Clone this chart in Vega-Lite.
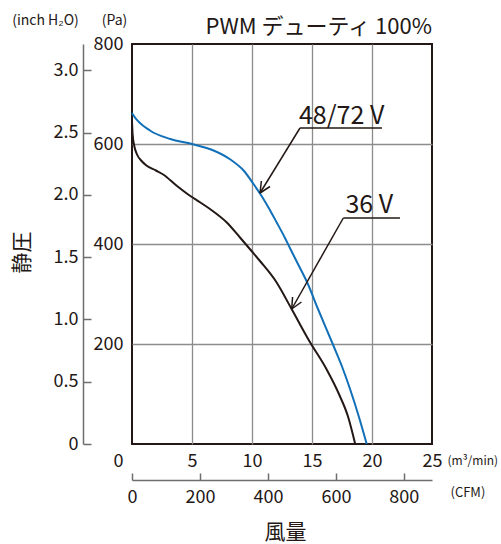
{
  "$schema": "https://vega.github.io/schema/vega-lite/v6.json",
  "width": 300,
  "height": 400,
  "autosize": {"type": "none"},
  "padding": {"left": 132, "top": 44, "right": 69, "bottom": 100},
  "background": "white",
  "config": {
    "view": {"stroke": "#231815", "strokeWidth": 2},
    "font": "Noto Sans CJK JP, sans-serif",
    "axis": {
      "labelFont": "Noto Sans CJK JP, sans-serif",
      "labelFontSize": 18,
      "labelColor": "#231815",
      "titleFont": "Noto Sans CJK JP, sans-serif",
      "titleFontWeight": "normal",
      "titleColor": "#231815",
      "labelOverlap": false,
      "labelFlush": false
    }
  },
  "title": {
    "text": "PWM デューティ 100%",
    "anchor": "end",
    "frame": "group",
    "fontSize": 22,
    "font": "Noto Sans CJK JP, sans-serif",
    "fontWeight": "normal",
    "color": "#231815",
    "baseline": "alphabetic",
    "offset": -43
  },
  "datasets": {
    "curves": [
      {"series": "48/72 V", "flow": 0, "pressure": 662},
      {"series": "48/72 V", "flow": 0.1, "pressure": 658},
      {"series": "48/72 V", "flow": 1.5, "pressure": 627},
      {"series": "48/72 V", "flow": 3.2, "pressure": 610},
      {"series": "48/72 V", "flow": 5, "pressure": 600},
      {"series": "48/72 V", "flow": 6.8, "pressure": 587},
      {"series": "48/72 V", "flow": 8.2, "pressure": 569},
      {"series": "48/72 V", "flow": 9.3, "pressure": 547},
      {"series": "48/72 V", "flow": 10.1, "pressure": 521},
      {"series": "48/72 V", "flow": 10.8, "pressure": 496},
      {"series": "48/72 V", "flow": 11.3, "pressure": 476},
      {"series": "48/72 V", "flow": 12.06, "pressure": 443},
      {"series": "48/72 V", "flow": 12.75, "pressure": 412},
      {"series": "48/72 V", "flow": 13.2, "pressure": 390},
      {"series": "48/72 V", "flow": 14, "pressure": 352},
      {"series": "48/72 V", "flow": 14.6, "pressure": 323},
      {"series": "48/72 V", "flow": 15.5, "pressure": 270},
      {"series": "48/72 V", "flow": 16.78, "pressure": 197},
      {"series": "48/72 V", "flow": 17.5, "pressure": 155},
      {"series": "48/72 V", "flow": 18.17, "pressure": 110},
      {"series": "48/72 V", "flow": 18.9, "pressure": 55},
      {"series": "48/72 V", "flow": 19.56, "pressure": 0},
      {"series": "36 V", "flow": 0, "pressure": 645},
      {"series": "36 V", "flow": 0.05, "pressure": 620},
      {"series": "36 V", "flow": 0.2, "pressure": 595},
      {"series": "36 V", "flow": 0.4, "pressure": 580},
      {"series": "36 V", "flow": 0.8, "pressure": 566},
      {"series": "36 V", "flow": 1.2, "pressure": 557},
      {"series": "36 V", "flow": 2, "pressure": 547},
      {"series": "36 V", "flow": 2.6, "pressure": 539},
      {"series": "36 V", "flow": 3.7, "pressure": 517},
      {"series": "36 V", "flow": 4.8, "pressure": 497},
      {"series": "36 V", "flow": 5.7, "pressure": 483},
      {"series": "36 V", "flow": 6.5, "pressure": 470},
      {"series": "36 V", "flow": 7.9, "pressure": 443},
      {"series": "36 V", "flow": 9, "pressure": 413},
      {"series": "36 V", "flow": 10, "pressure": 385},
      {"series": "36 V", "flow": 10.7, "pressure": 365},
      {"series": "36 V", "flow": 12, "pressure": 325},
      {"series": "36 V", "flow": 13.3, "pressure": 270},
      {"series": "36 V", "flow": 14.8, "pressure": 205},
      {"series": "36 V", "flow": 16.2, "pressure": 150},
      {"series": "36 V", "flow": 17.3, "pressure": 97},
      {"series": "36 V", "flow": 18, "pressure": 55},
      {"series": "36 V", "flow": 18.6, "pressure": 0}
    ],
    "leaders": [
      {"flow": 14.0, "pressure": 632, "flow2": 20.83, "pressure2": 632},
      {"flow": 14.0, "pressure": 632, "flow2": 10.67, "pressure2": 502},
      {"flow": 10.67, "pressure": 502, "flow2": 11.5, "pressure2": 515},
      {"flow": 10.67, "pressure": 502, "flow2": 10.78, "pressure2": 526},
      {"flow": 17.61, "pressure": 452, "flow2": 22.33, "pressure2": 452},
      {"flow": 17.61, "pressure": 452, "flow2": 13.31, "pressure2": 270},
      {"flow": 13.31, "pressure": 270, "flow2": 14.12, "pressure2": 284},
      {"flow": 13.31, "pressure": 270, "flow2": 13.38, "pressure2": 294}
    ],
    "labels": [
      {"flow": 17.47, "pressure": 641, "label": "48/72 V"},
      {"flow": 19.77, "pressure": 463, "label": "36 V"}
    ]
  },
  "layer": [
    {
      "encoding": {
        "x": {
          "field": "flow", "type": "quantitative",
          "scale": {"domain": [0, 25], "nice": false, "zero": false},
          "axis": {
            "orient": "bottom",
            "values": [0, 5, 10, 15, 20, 25],
            "domain": false, "ticks": false,
            "labelPadding": 8,
            "labelAlign": {"condition": {"test": "datum.value == 0", "value": "right"}, "value": "center"},
            "labelOffset": {"condition": {"test": "datum.value == 0", "value": -9}, "value": 0},
            "grid": true,
            "gridColor": {"condition": {"test": "datum.value == 0 || datum.value == 25", "value": "transparent"}, "value": "#8c8c8c"},
            "gridWidth": 1.3,
            "title": "(m³/min)",
            "titleFontSize": 12,
            "titleX": 315, "titleY": 16,
            "titleAlign": "left", "titleBaseline": "middle"
          }
        },
        "y": {
          "field": "pressure", "type": "quantitative",
          "scale": {"domain": [0, 800], "nice": false},
          "axis": {
            "orient": "left",
            "values": [200, 400, 600, 800],
            "domain": false, "ticks": false,
            "labelPadding": 9,
            "grid": true,
            "gridColor": {"condition": {"test": "datum.value == 800", "value": "transparent"}, "value": "#8c8c8c"},
            "gridWidth": 1.3,
            "title": "(Pa)",
            "titleFontSize": 14,
            "titleAngle": 0,
            "titleX": -18, "titleY": -24,
            "titleAlign": "center", "titleBaseline": "middle"
          }
        }
      },
      "layer": [
        {
          "data": {"name": "curves"},
          "mark": {"type": "line", "interpolate": "monotone", "strokeWidth": 2},
          "encoding": {
            "color": {
              "field": "series", "type": "nominal",
              "scale": {"domain": ["48/72 V", "36 V"], "range": ["#1170b8", "#231815"]},
              "legend": null
            }
          }
        },
        {
          "data": {"name": "leaders"},
          "mark": {"type": "rule", "color": "#231815", "strokeWidth": 1.5},
          "encoding": {
            "x2": {"field": "flow2"},
            "y2": {"field": "pressure2"}
          }
        },
        {
          "data": {"name": "labels"},
          "mark": {"type": "text", "align": "center", "baseline": "alphabetic", "fontSize": 25, "font": "Noto Sans CJK JP, sans-serif", "color": "#231815"},
          "encoding": {
            "text": {"field": "label"}
          }
        }
      ]
    },
    {
      "data": {"values": [{"cfm": 0, "inch": 0}, {"cfm": 882.87, "inch": 3.2117}]},
      "mark": {"type": "point", "opacity": 0},
      "encoding": {
        "x": {
          "field": "cfm", "type": "quantitative",
          "scale": {"domain": [0, 882.87], "nice": false, "zero": false},
          "axis": {
            "orient": "bottom", "offset": 36,
            "values": [0, 200, 400, 600, 800],
            "domainColor": "#6e6e6e", "domainWidth": 1.5,
            "tickColor": "#6e6e6e", "tickWidth": 1.5, "tickSize": -7,
            "labelPadding": 15,
            "grid": false,
            "title": "(CFM)",
            "titleFontSize": 13,
            "titleX": 318, "titleY": 12,
            "titleAlign": "left", "titleBaseline": "middle"
          }
        },
        "y": {
          "field": "inch", "type": "quantitative",
          "scale": {"domain": [0, 3.2117], "nice": false, "zero": false},
          "axis": {
            "orient": "left", "offset": 49,
            "values": [0, 0.5, 1, 1.5, 2, 2.5, 3],
            "labelExpr": "datum.value == 0 ? '0' : format(datum.value, '.1f')",
            "domainColor": "#6e6e6e", "domainWidth": 1.5,
            "tickColor": "#6e6e6e", "tickWidth": 1.5, "tickSize": -8,
            "labelPadding": 13,
            "grid": false,
            "title": "(inch H₂O)",
            "titleFontSize": 14,
            "titleAngle": 0,
            "titleX": -38, "titleY": -24,
            "titleAlign": "center", "titleBaseline": "middle"
          }
        }
      }
    },
    {
      "data": {"values": [{"a": 0, "b": 0}]},
      "mark": {"type": "point", "opacity": 0},
      "encoding": {
        "x": {
          "field": "a", "type": "quantitative",
          "axis": {
            "orient": "bottom", "domain": false, "ticks": false, "labels": false, "grid": false,
            "title": "風量", "titleFont": "Noto Sans CJK JP", "titleFontSize": 21,
            "titleX": 153, "titleY": 88, "titleAlign": "center", "titleBaseline": "middle"
          }
        },
        "y": {
          "field": "b", "type": "quantitative",
          "axis": {
            "orient": "left", "domain": false, "ticks": false, "labels": false, "grid": false,
            "title": "静圧", "titleFont": "Noto Sans CJK JP", "titleFontSize": 21,
            "titleAngle": -90,
            "titleX": -110, "titleY": 208, "titleAlign": "center", "titleBaseline": "middle"
          }
        }
      }
    }
  ],
  "resolve": {"scale": {"x": "independent", "y": "independent"}}
}
